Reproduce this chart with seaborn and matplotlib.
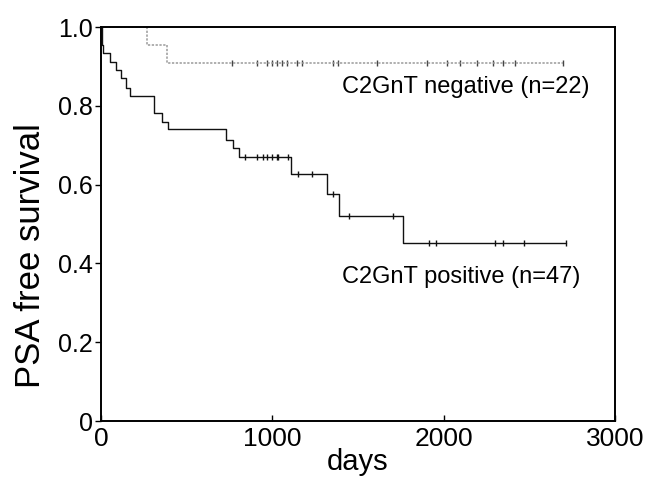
import numpy as np
import pandas as pd
import seaborn as sns
import matplotlib.pyplot as plt

# Kaplan-Meier steps (days, survival after the step)
neg_times = [0, 267, 383]
neg_surv = [1.0, 0.955, 0.909]
neg_end = 2699
neg_censor = [763, 909, 967, 997, 1026, 1055, 1084, 1142, 1171, 1354, 1383,
              1609, 1901, 2018, 2096, 2193, 2290, 2348, 2417, 2699]

pos_times = [0, 8, 13, 53, 86, 117, 146, 169, 311, 354, 389, 730, 769, 807,
             1109, 1321, 1391, 1765]
pos_surv = [1.0, 0.955, 0.934, 0.912, 0.890, 0.870, 0.846, 0.824, 0.781, 0.760,
            0.740, 0.713, 0.692, 0.670, 0.627, 0.577, 0.520, 0.452]
pos_end = 2715
pos_censor = [841, 909, 947, 967, 997, 1026, 1035, 1093, 1152, 1230, 1353, 1449,
              1703, 1915, 1956, 2300, 2349, 2469, 2715]

x_ticks = [0, 1000, 2000, 3000]
y_ticks = [0, 0.2, 0.4, 0.6, 0.8, 1.0]
y_ticklabels = ["0", "0.2", "0.4", "0.6", "0.8", "1.0"]


def step_frame(times, surv, end):
    df = pd.DataFrame({"days": list(times) + [end], "surv": list(surv) + [surv[-1]]})
    return df


def censor_frame(times, surv, censor):
    idx = np.searchsorted(times, censor, side="right") - 1
    return pd.DataFrame({"days": censor, "surv": np.asarray(surv)[idx]})


sns.set_style("ticks")
plt.rcParams['font.family'] = ['Liberation Sans', 'DejaVu Sans']
plt.rcParams['text.color'] = 'black'
plt.rcParams['axes.labelcolor'] = 'black'
plt.rcParams['xtick.color'] = 'black'
plt.rcParams['ytick.color'] = 'black'

fig = plt.figure(figsize=(6.47, 4.78), dpi=100)
ax = fig.add_axes([0.156, 0.119, 0.7945, 0.8245])

neg_color = "#9a9a9a"
pos_color = "#111111"

sns.lineplot(data=step_frame(neg_times, neg_surv, neg_end), x="days", y="surv",
             drawstyle="steps-post", color=neg_color, linewidth=1.1,
             linestyle=(0, (1.5, 1)), sort=False, ax=ax)
sns.lineplot(data=step_frame(pos_times, pos_surv, pos_end), x="days", y="surv",
             drawstyle="steps-post", color=pos_color, linewidth=1.0,
             sort=False, ax=ax)

sns.scatterplot(data=censor_frame(neg_times, neg_surv, neg_censor), x="days", y="surv",
                marker="|", s=22, linewidth=1.0, color="#444444", ax=ax)
sns.scatterplot(data=censor_frame(pos_times, pos_surv, pos_censor), x="days", y="surv",
                marker="|", s=22, linewidth=1.0, color=pos_color, ax=ax)

ax.text(1405, 0.848, "C2GnT negative (n=22)", fontsize=17, va="center", ha="left")
ax.text(1405, 0.366, "C2GnT positive (n=47)", fontsize=17, va="center", ha="left")

ax.set_xlim(0, 3000)
ax.set_ylim(0, 1.0)
ax.set_xticks(x_ticks)
ax.set_yticks(y_ticks)
ax.set_yticklabels(y_ticklabels)
ax.tick_params(axis="x", direction="in", length=4, width=1, labelsize=19, pad=4)
ax.tick_params(axis="y", direction="out", length=4, width=1, labelsize=18, pad=2)
ax.set_xlabel("days", fontsize=21, labelpad=-2)
ax.set_ylabel("PSA free survival", fontsize=25)
ax.yaxis.set_label_coords(-0.105, 0.42)

for side in ["top", "right", "bottom", "left"]:
    ax.spines[side].set_visible(True)
    ax.spines[side].set_linewidth(1.4)
    ax.spines[side].set_color("black")

plt.savefig("out.png", dpi=100)
plt.close()
